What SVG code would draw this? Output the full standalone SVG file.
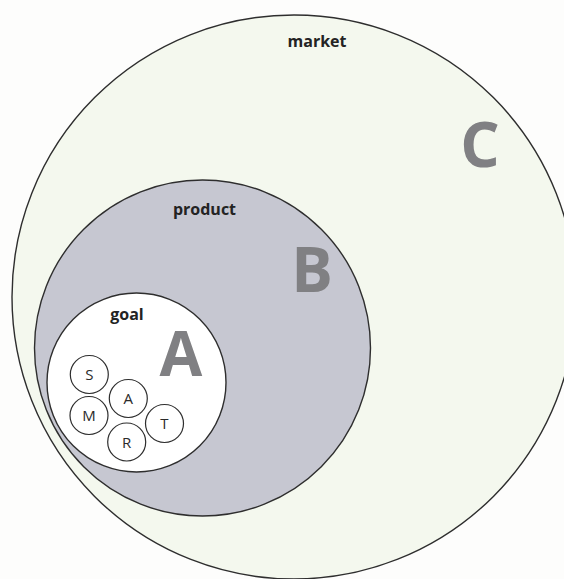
<svg xmlns="http://www.w3.org/2000/svg" width="564" height="579" viewBox="0 0 564 579">
  <style>
    .ring { stroke: #2e2e2e; stroke-width: 1.4; }
    .label { font-family: "Open Sans", "Noto Sans", "Liberation Sans", sans-serif; font-weight: 700; fill: #232323; text-anchor: middle; }
    .big { font-family: "Open Sans", "Noto Sans", "Liberation Sans", sans-serif; font-weight: 700; fill: #808083; text-anchor: middle; font-size: 62px; }
    .smart circle { fill: #ffffff; stroke: #2e2e2e; stroke-width: 1.2; }
    .smart text { font-family: "Open Sans", "Noto Sans", "Liberation Sans", sans-serif; font-size: 15px; fill: #2a2a2a; text-anchor: middle; }
  </style>
  <rect width="564" height="579" fill="#fdfdfc"/>
  <g id="market">
    <circle class="ring" cx="294" cy="297" r="282" fill="#f4f8ee"/>
    <text class="label" x="317" y="47" font-size="16">market</text>
    <text class="big" x="480" y="167">C</text>
  </g>
  <g id="product">
    <circle class="ring" cx="202.5" cy="348" r="168" fill="#c6c7d1"/>
    <text class="label" x="204.5" y="215" font-size="16">product</text>
    <text class="big" x="312" y="292">B</text>
  </g>
  <g id="goal">
    <circle class="ring" cx="136.5" cy="382.5" r="89.5" fill="#ffffff"/>
    <text class="label" x="127" y="320" font-size="16">goal</text>
    <text class="big" x="181" y="376">A</text>
  </g>
  <g id="smart" class="smart">
    <g id="s"><circle cx="89.3" cy="374.5" r="19"/><text x="89.3" y="380">S</text></g>
    <g id="m"><circle cx="89" cy="415.5" r="19"/><text x="89" y="421">M</text></g>
    <g id="a"><circle cx="128.3" cy="398.5" r="19"/><text x="128.3" y="404">A</text></g>
    <g id="r"><circle cx="126.7" cy="442" r="19"/><text x="126.7" y="447.5">R</text></g>
    <g id="t"><circle cx="164.5" cy="423.5" r="19"/><text x="164.5" y="429">T</text></g>
  </g>
  <g id="connectors"/>
</svg>
